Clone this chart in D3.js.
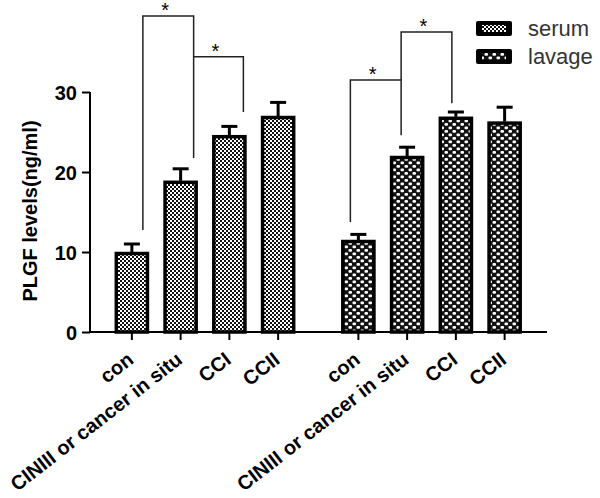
<!DOCTYPE html>
<html><head><meta charset="utf-8">
<script src="https://cdn.jsdelivr.net/npm/d3@7"></script>
<style>body{margin:0;background:#fff}svg{display:block}</style>
</head><body>
<svg id="c" width="600" height="498"></svg>
<script>
const groups = ["serum", "lavage"];
const categories = ["con", "CINIII or cancer in situ", "CCI", "CCII"];
const serumMeans = [10.0, 18.9, 24.6, 27.0];
const serumErr = [1.0, 1.5, 1.1, 1.7];
const lavageMeans = [11.5, 22.0, 26.9, 26.3];
const lavageErr = [0.7, 1.1, 0.6, 1.8];
const yTicks = [0, 10, 20, 30];
const yLabel = "PLGF levels(ng/ml)";
// significance brackets (values on the y scale): left leg bottom, top, right leg bottom
const sigs = [
  {g:"serum", a:0, b:1, va:12.75, vb:21.75, top:39.5},
  {g:"serum", a:1, b:2, va:34.4, vb:27.5, top:34.4},
  {g:"lavage", a:0, b:1, va:13.75, vb:24.6, top:31.5},
  {g:"lavage", a:1, b:2, va:31.5, vb:28.6, top:37.5}
];

const FONT = "Liberation Sans, Arial, Helvetica, sans-serif";
const svg = d3.select("#c");
const defs = svg.append("defs");
const p1 = defs.append("pattern").attr("id","pSerum").attr("patternUnits","userSpaceOnUse")
  .attr("width",4).attr("height",4);
p1.append("rect").attr("width",4).attr("height",4).attr("fill","#fff");
p1.append("rect").attr("width",2).attr("height",2).attr("fill","#111");
p1.append("rect").attr("x",2).attr("y",2).attr("width",2).attr("height",2).attr("fill","#111");
const p2 = defs.append("pattern").attr("id","pLavage").attr("patternUnits","userSpaceOnUse")
  .attr("width",8).attr("height",7);
p2.append("rect").attr("width",8).attr("height",7).attr("fill","#111");
p2.append("rect").attr("x",0.5).attr("y",0.5).attr("width",3.5).attr("height",2.8).attr("rx",1).attr("fill","#fff");
p2.append("rect").attr("x",4.5).attr("y",4).attr("width",3.5).attr("height",2.8).attr("rx",1).attr("fill","#fff");
const fills = {serum:"url(#pSerum)", lavage:"url(#pLavage)"};

const y = d3.scaleLinear().domain([0,30]).range([332,92]);
const gx = d3.scalePoint().domain(groups).range([205,431.5]);
const ix = d3.scaleBand().domain(categories).range([-97.5,97.5]).paddingInner(0.3).paddingOuter(0.15);
const bw = ix.bandwidth();
const cx = (g,c) => gx(g) + ix(c) + bw/2;
// horizontal offset of bracket legs from bar centres, per group
const legOffset = {serum:[11,13,14], lavage:[-8,-6,-4]};

const data = [];
groups.forEach(g => categories.forEach((c,i) => {
  const m = g==="serum" ? serumMeans[i] : lavageMeans[i];
  const e = g==="serum" ? serumErr[i] : lavageErr[i];
  data.push({g,c,m,e});
}));

// bars
svg.append("g").selectAll("rect").data(data).join("rect")
  .attr("x", d => cx(d.g,d.c) - bw/2 + 1.5)
  .attr("width", bw - 3)
  .attr("y", d => y(d.m) + 1.5)
  .attr("height", d => y(0) - y(d.m) - 1.5)
  .attr("fill", d => fills[d.g])
  .attr("stroke","#000").attr("stroke-width",3.5);
// error bars
const eb = svg.append("g").attr("stroke","#000").attr("stroke-width",3);
eb.selectAll("line.v").data(data).join("line").attr("class","v")
  .attr("x1", d=>cx(d.g,d.c)).attr("x2", d=>cx(d.g,d.c))
  .attr("y1", d=>y(d.m)).attr("y2", d=>y(d.m+d.e));
eb.selectAll("line.h").data(data).join("line").attr("class","h")
  .attr("x1", d=>cx(d.g,d.c)-8).attr("x2", d=>cx(d.g,d.c)+8)
  .attr("y1", d=>y(d.m+d.e)).attr("y2", d=>y(d.m+d.e));

// y axis
const yAxis = svg.append("g").attr("transform","translate(90,0)")
  .call(d3.axisLeft(y).tickValues(yTicks).tickSize(8).tickPadding(5).tickFormat(d3.format("d")));
yAxis.select(".domain").attr("stroke","#000").attr("stroke-width",2).attr("d", `M0,${y(30)}V${y(0)}`);
yAxis.selectAll(".tick line").attr("stroke","#000").attr("stroke-width",2);
yAxis.selectAll(".tick text").attr("font-family",FONT)
  .attr("font-weight","bold").attr("font-size",20).attr("fill","#000").attr("dy","0.36em");

// x axis baseline with ticks at bar centres
svg.append("line").attr("x1",90).attr("x2",547).attr("y1",y(0)).attr("y2",y(0))
  .attr("stroke","#000").attr("stroke-width",2);
const xt = svg.append("g");
xt.selectAll("line").data(data).join("line")
  .attr("x1", d=>cx(d.g,d.c)).attr("x2", d=>cx(d.g,d.c))
  .attr("y1", y(0)).attr("y2", y(0)+8)
  .attr("stroke","#000").attr("stroke-width",2);
xt.selectAll("text").data(data).join("text")
  .attr("transform", d => `translate(${cx(d.g,d.c)+3},${y(0)+30}) rotate(-38)`)
  .attr("text-anchor","end")
  .attr("font-family",FONT).attr("font-weight","bold")
  .attr("font-size",20).attr("fill","#000").text(d=>d.c);

// y label
svg.append("text").attr("transform",`translate(37,211) rotate(-90)`)
  .attr("text-anchor","middle")
  .attr("font-family",FONT).attr("font-weight","bold")
  .attr("font-size",20).attr("fill","#000").text(yLabel);

// significance brackets
const sg = svg.append("g");
sigs.forEach(s => {
  const xa = cx(s.g, categories[s.a]) + legOffset[s.g][s.a];
  const xb = cx(s.g, categories[s.b]) + legOffset[s.g][s.b];
  sg.append("path").attr("d", `M${xa},${y(s.va)}V${y(s.top)}H${xb}V${y(s.vb)}`)
    .attr("fill","none").attr("stroke","#222").attr("stroke-width",1.5);
  sg.append("text").attr("x",(xa+xb)/2 - 3).attr("y", y(s.top)+1)
    .attr("text-anchor","middle").attr("font-family",FONT)
    .attr("font-size",20).attr("fill","#000").text("*");
});

// legend
const lg = svg.append("g");
groups.forEach((g,i) => {
  const yy = 21 + i*28;
  lg.append("rect").attr("x",476).attr("y",yy).attr("width",36).attr("height",15).attr("rx",2)
    .attr("fill","#000");
  lg.append("rect").attr("x",482).attr("y",yy+4).attr("width",24).attr("height",7)
    .attr("fill",fills[g]);
  lg.append("text").attr("x",528).attr("y",yy+15)
    .attr("font-family",FONT).attr("font-size",22)
    .attr("fill","#333").text(g);
});
</script>
</body></html>
